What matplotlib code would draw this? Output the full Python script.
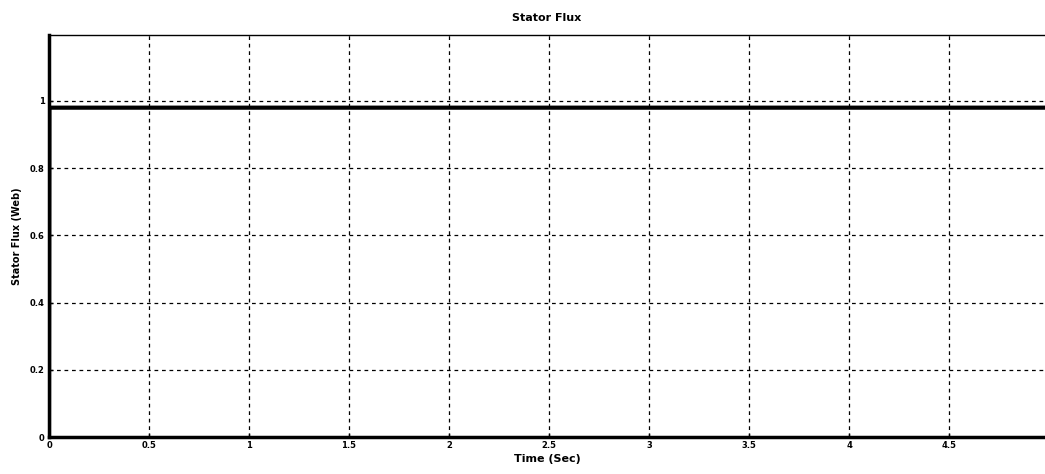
import matplotlib
matplotlib.use('Agg')
import matplotlib.pyplot as plt

# stator flux response
t_sec = [0.0, 0.002, 5.0]
flux_web = [0.0, 0.98, 0.98]

xticks = [0, 0.5, 1, 1.5, 2, 2.5, 3, 3.5, 4, 4.5]
xticklabels = ['0', '0.5', '1', '1.5', '2', '2.5', '3', '3.5', '4', '4.5']
yticks = [0, 0.2, 0.4, 0.6, 0.8, 1]
yticklabels = ['0', '0.2', '0.4', '0.6', '0.8', '1']

fig = plt.figure(figsize=(10.45, 4.74), dpi=100)
ax = fig.add_axes([0.0469, 0.078, 0.9531, 0.848])

ax.plot(t_sec, flux_web, color='black', linewidth=3)

ax.set_xlim(0, 4.98)
ax.set_ylim(0, 1.196)
ax.set_xticks(xticks)
ax.set_xticklabels(xticklabels, fontsize=6, fontweight='bold')
ax.set_yticks(yticks)
ax.set_yticklabels(yticklabels, fontsize=6, fontweight='bold')
ax.tick_params(direction='in', length=3, width=1, pad=3)
ax.grid(True, color='black', linestyle=(0, (3, 3)), linewidth=0.9)

for side in ['left', 'bottom']:
    ax.spines[side].set_linewidth(2.5)
ax.spines['top'].set_linewidth(1)
ax.spines['right'].set_visible(False)

ax.set_title('Stator Flux', fontsize=8, fontweight='bold', pad=10)
ax.set_xlabel('Time (Sec)', fontsize=8, fontweight='bold', labelpad=3)
ax.set_ylabel('Stator Flux (Web)', fontsize=7, fontweight='bold', labelpad=6)

fig.savefig('out.png', dpi=100)
